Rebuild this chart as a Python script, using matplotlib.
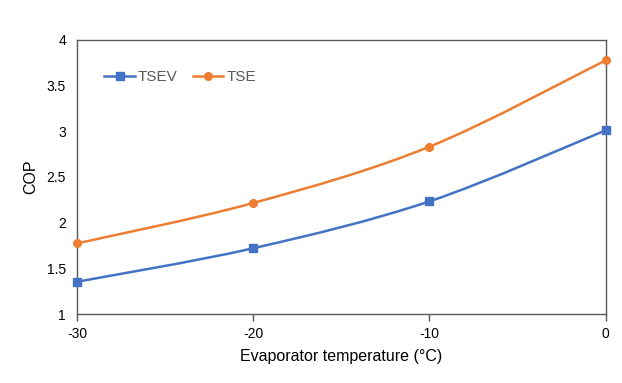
import matplotlib
matplotlib.use("Agg")
import matplotlib.pyplot as plt
import numpy as np
from matplotlib.path import Path
from matplotlib.patches import PathPatch
from matplotlib.lines import Line2D

plt.rcParams['font.family'] = ['Liberation Sans', 'DejaVu Sans']

temps = [-30, -20, -10, 0]
tsev = [1.353, 1.72, 2.233, 3.01]
tse = [1.773, 2.215, 2.831, 3.776]
xticks = [-30, -20, -10, 0]
yticks = [1, 1.5, 2, 2.5, 3, 3.5, 4]
ytick_labels = ['1', '1.5', '2', '2.5', '3', '3.5', '4']

blue = '#4472C4'
orange = '#ED7D31'

fig = plt.figure(figsize=(6.22, 3.83), dpi=100)
ax = fig.add_axes([0.1238, 0.180, 0.850, 0.716])


def smooth_path(xs, ys):
    pts = np.column_stack([xs, ys]).astype(float)
    n = len(pts)
    verts = [pts[0]]
    codes = [Path.MOVETO]
    for i in range(n - 1):
        p0 = pts[i - 1] if i > 0 else pts[i]
        p1 = pts[i]
        p2 = pts[i + 1]
        p3 = pts[i + 2] if i + 2 < n else pts[i + 1]
        c1 = p1 + (p2 - p0) / 6.0
        c2 = p2 - (p3 - p1) / 6.0
        verts += [c1, c2, p2]
        codes += [Path.CURVE4] * 3
    return Path(verts, codes)


for ys, col, mk, lab in [(tsev, blue, 's', 'TSEV'), (tse, orange, 'o', 'TSE')]:
    ax.add_patch(PathPatch(smooth_path(temps, ys), facecolor='none',
                           edgecolor=col, lw=1.8, zorder=2))
    ax.plot(temps, ys, linestyle='none', marker=mk, color=col,
            markersize=5.5, zorder=3, clip_on=False)

handles = [Line2D([], [], color=blue, lw=1.8, marker='s', markersize=5.5),
           Line2D([], [], color=orange, lw=1.8, marker='o', markersize=5.5)]
leg = ax.legend(handles, ['TSEV', 'TSE'], ncol=2, frameon=False,
                loc='upper left', bbox_to_anchor=(0.0255, 0.94),
                handlelength=2.0, handletextpad=0.2, columnspacing=1.0,
                fontsize=11)
for t in leg.get_texts():
    t.set_color('#595959')

ax.set_xlim(-30, 0)
ax.set_ylim(1, 4)
ax.set_xticks(xticks)
ax.set_xticklabels([str(t) for t in xticks])
ax.set_yticks(yticks)
ax.set_yticklabels(ytick_labels)
ax.tick_params(axis='x', direction='out', length=5, width=1, color='#595959',
               labelsize=10, pad=4)
ax.tick_params(axis='y', length=0, labelsize=10, pad=8)
for s in ax.spines.values():
    s.set_color('#595959')
    s.set_linewidth(1.0)

ax.set_xlabel('Evaporator temperature (°C)', fontsize=11.5, labelpad=6)
ax.set_ylabel('COP', fontsize=11.5, labelpad=6)

fig.savefig('out.png', dpi=100)
